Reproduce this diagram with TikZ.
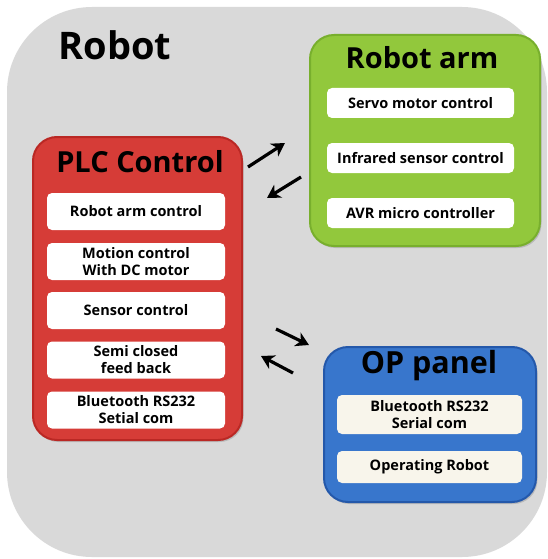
\documentclass[tikz,border=0pt]{standalone}
\usepackage{fontspec}
\setmainfont{Open Sans}
\usetikzlibrary{arrows.meta,shadows}

\definecolor{bggray}{RGB}{217,217,217}
\definecolor{plcred}{RGB}{214,60,55}
\definecolor{plcedge}{RGB}{186,40,36}
\definecolor{armgreen}{RGB}{146,200,60}
\definecolor{armedge}{RGB}{120,175,45}
\definecolor{opblue}{RGB}{56,118,204}
\definecolor{opedge}{RGB}{36,88,170}
\definecolor{cream}{RGB}{248,245,235}

\tikzset{
  groupbox/.style={rounded corners=24pt,line width=2pt,minimum width=#1,
    drop shadow={shadow xshift=1.5pt,shadow yshift=-2pt,opacity=.35}},
  itembox/.style={fill=white,rounded corners=5pt,align=center,inner sep=0pt,
    font=\fontsize{14.5}{17}\selectfont\bfseries},
  grouptitle/.style={font=\fontsize{29}{31}\selectfont\bfseries},
  link/.style={-{Stealth[length=13pt,width=15pt,inset=4pt]},line width=3.2pt,black}
}

\begin{document}
\begin{tikzpicture}[x=1pt,y=-1pt]
  \useasboundingbox (0,0) rectangle (548,559);

  % Background
  \node[fill=bggray,rounded corners=85pt,minimum width=540pt,minimum height=550pt,inner sep=0pt] (robot) at (277,282) {};
  \node[font=\fontsize{38}{40}\selectfont\bfseries] (robottitle) at (115,45) {Robot};

  % PLC Control
  \node[groupbox=209pt,fill=plcred,draw=plcedge,minimum height=303pt] (plc) at (137.5,288.5) {};
  \node[grouptitle] (plctitle) at (140,162) {PLC Control};
  \node[itembox,minimum width=178pt,minimum height=37pt] (plcA) at (136,211.5) {Robot arm control};
  \node[itembox,minimum width=178pt,minimum height=37pt] (plcB) at (136,261.5) {Motion control\\With DC motor};
  \node[itembox,minimum width=178pt,minimum height=37pt] (plcC) at (136,310.5) {Sensor control};
  \node[itembox,minimum width=178pt,minimum height=37pt] (plcD) at (136,360) {Semi closed\\feed back};
  \node[itembox,minimum width=178pt,minimum height=37pt] (plcE) at (136,410) {Bluetooth RS232\\Setial com};

  % Robot arm
  \node[groupbox=230pt,fill=armgreen,draw=armedge,minimum height=211pt] (arm) at (425,140.5) {};
  \node[grouptitle] (armtitle) at (422,58) {Robot arm};
  \node[itembox,minimum width=187pt,minimum height=30pt] (armA) at (420.5,103) {Servo motor control};
  \node[itembox,minimum width=187pt,minimum height=30pt] (armB) at (420.5,158) {Infrared sensor control};
  \node[itembox,minimum width=187pt,minimum height=30pt] (armC) at (420.5,213) {AVR micro controller};

  % OP panel
  \node[groupbox=212pt,fill=opblue,draw=opedge,minimum height=155pt] (op) at (430,424.5) {};
  \node[grouptitle,font=\fontsize{30.5}{32}\selectfont\bfseries] (optitle) at (429,366) {OP panel};
  \node[itembox,fill=cream,minimum width=185pt,minimum height=39pt] (opA) at (429.5,414.5) {Bluetooth RS232\\Serial com};
  \node[itembox,fill=cream,minimum width=185pt,minimum height=32pt] (opB) at (429.5,467) {Operating Robot};

  % Arrows
  \coordinate (plcout) at (248,167);
  \coordinate (armin) at (285,143);
  \coordinate (armout) at (301,177);
  \coordinate (plcin) at (267,198);
  \coordinate (plcout2) at (276,329);
  \coordinate (opin) at (309,345);
  \coordinate (opout) at (293,373);
  \coordinate (plcin2) at (261,356);
  \draw[link] (plcout) -- (armin);
  \draw[link] (armout) -- (plcin);
  \draw[link] (plcout2) -- (opin);
  \draw[link] (opout) -- (plcin2);

\end{tikzpicture}
\end{document}
